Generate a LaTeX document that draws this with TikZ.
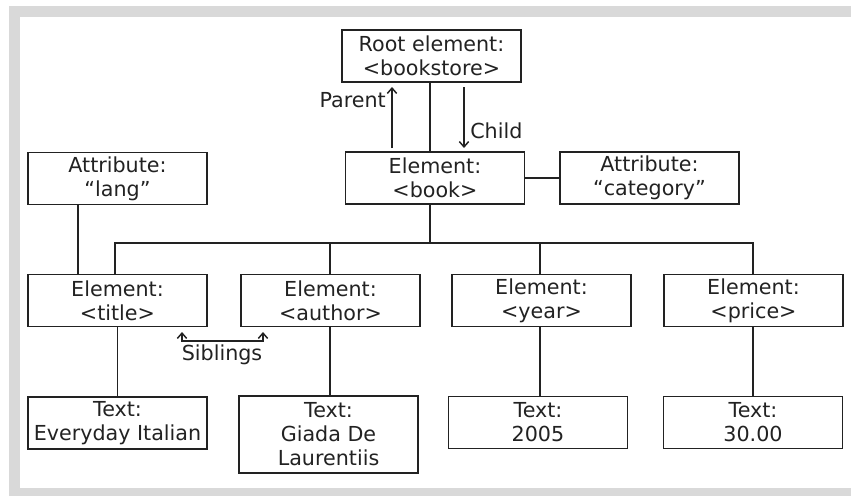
\documentclass[tikz,border=0pt]{standalone}
\usepackage{fontspec}
\setmainfont{DejaVu Sans}
\usetikzlibrary{arrows.meta}
\definecolor{framegray}{HTML}{D9D9D9}
\definecolor{ink}{HTML}{222222}
\begin{document}
\begin{tikzpicture}[x=0.75pt,y=-0.75pt,
  txt/.style={text=ink, font=\fontsize{15.5}{18}\selectfont},
  box/.style={txt, draw=ink, line width=1.3pt, minimum width=134.25pt, minimum height=39pt, inner sep=0pt, align=center},
  conn/.style={draw=ink, line width=1.3pt},
  tip/.style={conn, line width=1.1pt, -{Straight Barb[length=4pt,width=7pt]}},
  tips/.style={conn, line width=1.1pt, {Straight Barb[length=4pt,width=7pt]}-{Straight Barb[length=4pt,width=7pt]}},
  lbl/.style={txt, inner sep=0pt}]
\useasboundingbox (0,0) rectangle (851,496);
% frame
\fill[framegray] (9,6) rectangle (851,496);
\fill[white] (20,17) rectangle (851,488);
% nodes
\node[box] (root) at (431.5,56) {Root element:\\<bookstore>};
\node[box] (book) at (435,178) {Element:\\<book>};
\node[box] (lang) at (117.5,178.5) {Attribute:\\“lang”};
\node[box] (cat) at (649.5,178) {Attribute:\\“category”};
\node[box] (title) at (117.5,300.5) {Element:\\<title>};
\node[box] (author) at (330.5,300.5) {Element:\\<author>};
\node[box] (year) at (541.5,300.5) {Element:\\<year>};
\node[box] (price) at (753.5,300.5) {Element:\\<price>};
\node[box] (ttitle) at (117.5,423) {Text:\\Everyday Italian};
\node[box, minimum height=57.75pt] (tauthor) at (328.5,434.5) {Text:\\Giada De\\Laurentiis};
\node[box] (tyear) at (538,422.5) {Text:\\2005};
\node[box] (tprice) at (753,422.5) {Text:\\30.00};
% helper coordinates
\coordinate (xr) at (430,0);
\coordinate (xl) at (78,0);
\coordinate (bus) at (0,243);
\coordinate (x1) at (115,0);
\coordinate (x2) at (330,0);
\coordinate (x3) at (540,0);
\coordinate (x4) at (753,0);
\coordinate (pb) at (392,148);
\coordinate (pt) at (392,87);
\coordinate (ct) at (464,87);
\coordinate (cb) at (464,148);
\coordinate (s1) at (182,332);
\coordinate (s2) at (263,332);
\coordinate (sy) at (0,341);
% connectors
\draw[conn] (root.south -| xr) -- (book.north -| xr);
\draw[conn] (book.east) -- (cat.west);
\draw[conn] (lang.south -| xl) -- (title.north -| xl);
\draw[conn] (book.south -| xr) -- (bus -| xr);
\draw[conn] (title.north -| x1) -- (bus -| x1) -- (bus -| x4) -- (price.north -| x4);
\draw[conn] (bus -| x2) -- (author.north -| x2);
\draw[conn] (bus -| x3) -- (year.north -| x3);
\draw[conn] (title.south -| ttitle.north) -- (ttitle.north);
\draw[conn] (author.south -| x2) -- (tauthor.north -| x2);
\draw[conn] (year.south -| x3) -- (tyear.north -| x3);
\draw[conn] (price.south -| tprice.north) -- (tprice.north);
% relation arrows
\draw[tip] (pb) -- (pt);
\draw[tip] (ct) -- (cb);
\draw[tips] (s1) -- (s1 |- sy) -- (s2 |- sy) -- (s2);
% labels
\node[lbl, anchor=east] (plbl) at (386,100) {Parent};
\node[lbl, anchor=west] (clbl) at (470,131) {Child};
\node[lbl] (slbl) at (222,355) {Siblings};
\end{tikzpicture}
\end{document}
